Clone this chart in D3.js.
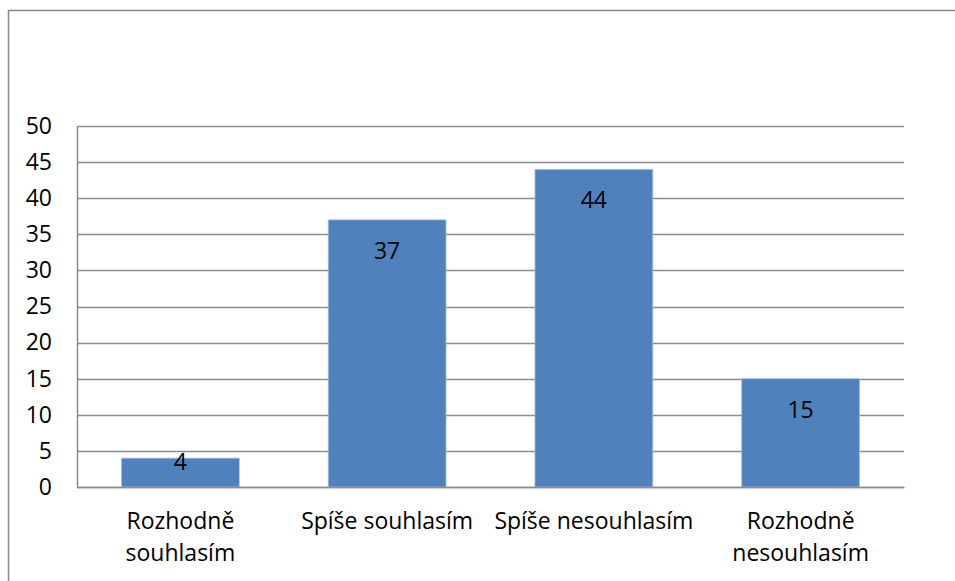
<!DOCTYPE html>
<html>
<head>
<meta charset="utf-8">
<script src="https://cdn.jsdelivr.net/npm/d3@7"></script>
<style>
  html, body { margin: 0; padding: 0; background: #fff; }
  svg { display: block; font-family: "Open Sans", sans-serif; }
</style>
</head>
<body>
<div id="chartContainer"></div>
<script>
const categories = [["Rozhodně", "souhlasím"], ["Spíše souhlasím"], ["Spíše nesouhlasím"], ["Rozhodně", "nesouhlasím"]];
const values = [4, 37, 44, 15];
const yTicks = [0, 5, 10, 15, 20, 25, 30, 35, 40, 45, 50];

const width = 955;
const height = 581;
const marginTop = 126;
const marginLeft = 77;
const marginRight = 51;
const marginBottom = 94;
const fontSize = 23;
const font = "'Open Sans', sans-serif";

const data = categories.map((c, i) => ({ key: c.join(" "), lines: c, value: values[i] }));

const x = d3.scaleBand()
  .domain(data.map(d => d.key))
  .range([marginLeft, width - marginRight])
  .paddingInner(0.43)
  .paddingOuter(0.215);

const y = d3.scaleLinear()
  .domain([0, 50])
  .range([height - marginBottom, marginTop]);

const svg = d3.create("svg")
  .attr("width", width)
  .attr("height", height)
  .attr("viewBox", [0, 0, width, height]);

document.getElementById("chartContainer").appendChild(svg.node());

// outer frame (only top and left edges visible in the crop)
svg.append("path")
  .attr("d", `M8.5,${height} V10.5 H${width}`)
  .attr("fill", "none")
  .attr("stroke", "#898989")
  .attr("stroke-width", 1.5);

// gridlines
svg.append("g")
  .attr("stroke", "#8c8c8c")
  .attr("stroke-width", 1.5)
  .selectAll()
  .data(yTicks)
  .join("line")
  .attr("x1", marginLeft)
  .attr("x2", width - marginRight)
  .attr("y1", d => Math.round(y(d)) + 0.5)
  .attr("y2", d => Math.round(y(d)) + 0.5);

// bars
svg.append("g")
  .attr("fill", "#4f81bd")
  .attr("stroke", "#a9c1df")
  .attr("stroke-width", 0.8)
  .selectAll()
  .data(data)
  .join("rect")
  .attr("x", d => x(d.key))
  .attr("y", d => y(d.value))
  .attr("width", x.bandwidth())
  .attr("height", d => y(0) - y(d.value));

// value labels, inside end (short bars keep the label above the axis)
svg.append("g")
  .attr("fill", "#000")
  .attr("text-anchor", "middle")
  .style("font-size", fontSize + "px")
  .selectAll()
  .data(data)
  .join("text")
  .attr("x", d => x(d.key) + x.bandwidth() / 2)
  .attr("y", d => Math.min(y(d.value) + 31, y(0) - 25))
  .attr("dy", "0.35em")
  .text(d => d.value);

// y axis
svg.append("g")
  .attr("transform", `translate(${marginLeft},0)`)
  .call(d3.axisLeft(y).tickValues(yTicks).tickSize(0).tickPadding(25))
  .call(g => g.select(".domain").attr("stroke", "#8c8c8c").attr("stroke-width", 1.5))
  .selectAll("text")
  .style("font-size", fontSize + "px")
  .style("font-family", font)
  .attr("fill", "#000");

// x axis
const xAxis = svg.append("g")
  .attr("transform", `translate(0,${height - marginBottom})`)
  .call(d3.axisBottom(x).tickSize(0).tickFormat(""))
  .call(g => g.select(".domain").attr("stroke", "#8c8c8c").attr("stroke-width", 1.5));

xAxis.selectAll(".tick text").remove();
xAxis.selectAll(".tick")
  .append("text")
  .attr("fill", "#000")
  .attr("text-anchor", "middle")
  .style("font-size", fontSize + "px")
  .style("font-family", font)
  .selectAll("tspan")
  .data(k => data.find(d => d.key === k).lines)
  .join("tspan")
  .attr("x", 0)
  .attr("y", (d, i) => 42 + i * 32)
  .text(d => d);
</script>
</body>
</html>
